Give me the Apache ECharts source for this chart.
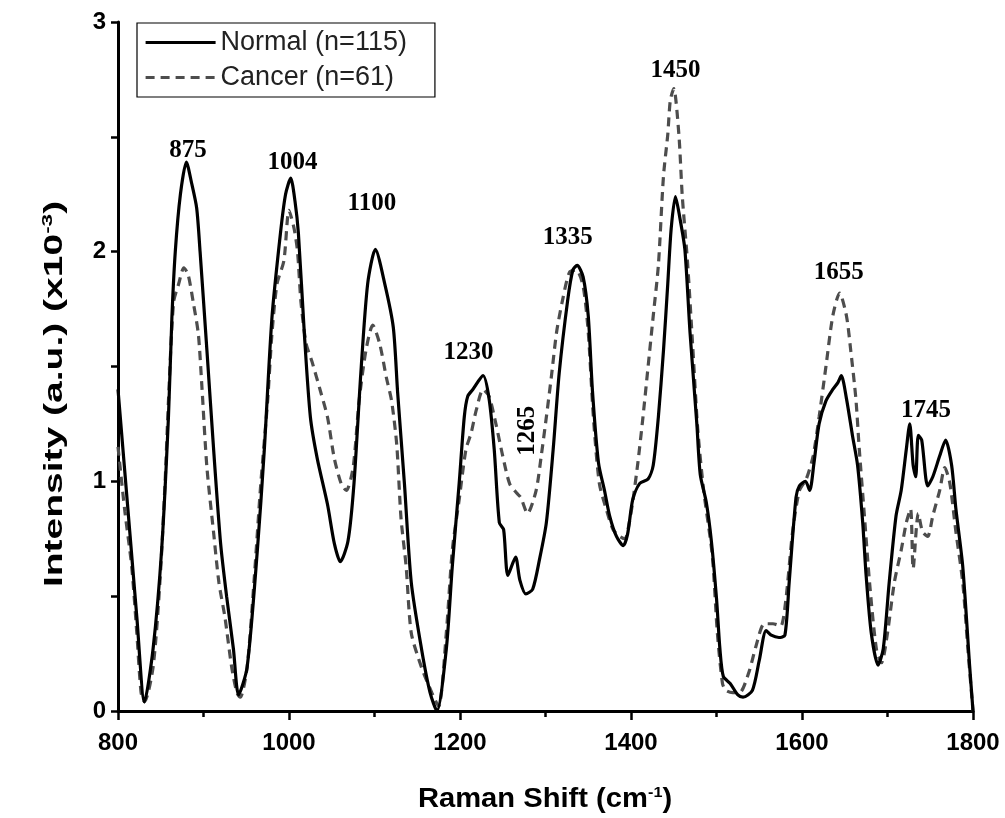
<!DOCTYPE html>
<html>
<head>
<meta charset="utf-8">
<script src="https://cdn.jsdelivr.net/npm/echarts@6/dist/echarts.min.js"></script>
<style>
  html, body { margin: 0; padding: 0; background: #fff; }
  #chart { width: 1005px; height: 818px; }
</style>
</head>
<body>
<div id="chart"></div>
<script>
// Mean Raman spectra, intensity in units of 1e-3
const normalShift = [800,814,822,831,841,851,859,863,867,873,880,886,892,896,904,912,920,927,935,941,951,963,971,980,990,996,1002,1007,1011,1018,1025,1033,1045,1053,1060,1069,1076,1084,1092,1101,1112,1122,1127,1135,1143,1155,1165,1173,1184,1191,1199,1205,1209,1215,1227,1234,1240,1246,1251,1256,1265,1270,1277,1285,1293,1301,1309,1316,1326,1332,1337,1344,1350,1355,1362,1369,1375,1383,1391,1396,1402,1410,1420,1426,1432,1438,1443,1447,1452,1457,1463,1469,1477,1481,1488,1494,1500,1504,1508,1516,1525,1531,1542,1550,1558,1564,1573,1580,1585,1593,1597,1604,1609,1614,1620,1628,1636,1642,1646,1652,1659,1665,1671,1675,1681,1689,1695,1702,1710,1716,1722,1726,1730,1733,1736,1740,1747,1753,1761,1768,1775,1780,1788,1796,1800];
const normalIntensity = [1.40,0.77,0.41,0.04,0.27,0.70,1.28,1.71,2.00,2.25,2.39,2.30,2.19,2.00,1.57,1.13,0.73,0.50,0.27,0.07,0.19,0.70,1.13,1.71,2.08,2.25,2.32,2.22,2.08,1.64,1.28,1.10,0.90,0.73,0.65,0.74,0.99,1.47,1.86,2.01,1.86,1.67,1.39,0.99,0.56,0.27,0.08,0.00,0.27,0.63,0.99,1.28,1.37,1.40,1.46,1.36,1.14,0.82,0.79,0.59,0.67,0.57,0.51,0.53,0.66,0.82,1.14,1.47,1.79,1.92,1.94,1.89,1.72,1.39,1.08,0.96,0.85,0.76,0.72,0.77,0.92,0.99,1.01,1.07,1.28,1.57,1.86,2.10,2.24,2.15,2.01,1.65,1.25,1.03,0.91,0.74,0.49,0.27,0.15,0.12,0.07,0.06,0.09,0.22,0.35,0.33,0.32,0.33,0.56,0.93,0.98,1.00,0.96,1.08,1.25,1.35,1.40,1.43,1.46,1.36,1.20,1.07,0.82,0.59,0.34,0.20,0.27,0.56,0.85,0.96,1.14,1.25,1.07,1.02,1.20,1.18,0.98,1.02,1.11,1.18,1.07,0.88,0.63,0.20,0.00];

const cancerShift = [800,808,816,822,827,831,841,849,855,859,865,871,877,882,888,894,898,904,912,918,925,933,939,943,951,959,967,975,980,986,994,1000,1006,1010,1014,1020,1027,1037,1045,1053,1061,1067,1075,1082,1090,1098,1106,1114,1120,1126,1131,1137,1143,1155,1167,1175,1184,1191,1199,1207,1213,1219,1227,1234,1242,1250,1258,1266,1271,1279,1289,1295,1301,1307,1313,1320,1328,1336,1344,1350,1356,1363,1371,1379,1387,1393,1398,1402,1408,1414,1420,1426,1432,1438,1443,1446,1450,1456,1460,1466,1472,1478,1485,1495,1501,1507,1511,1519,1527,1538,1546,1556,1566,1575,1581,1589,1597,1605,1613,1620,1628,1636,1644,1652,1657,1663,1667,1673,1679,1687,1693,1700,1708,1716,1722,1727,1730,1736,1741,1747,1753,1761,1767,1773,1780,1788,1794,1800];
const cancerIntensity = [1.15,0.87,0.63,0.34,0.08,0.04,0.19,0.56,0.99,1.35,1.78,1.86,1.93,1.90,1.78,1.64,1.42,1.06,0.77,0.56,0.41,0.19,0.08,0.06,0.19,0.56,0.99,1.35,1.64,1.86,1.96,2.18,2.10,2.00,1.78,1.60,1.52,1.39,1.28,1.10,0.99,0.96,1.06,1.35,1.57,1.68,1.60,1.45,1.35,1.16,0.84,0.63,0.34,0.19,0.08,0.02,0.34,0.70,0.92,1.14,1.21,1.31,1.40,1.37,1.25,1.11,0.99,0.95,0.93,0.86,0.96,1.11,1.28,1.46,1.65,1.79,1.91,1.92,1.85,1.65,1.28,0.99,0.88,0.79,0.76,0.75,0.82,0.91,1.08,1.28,1.50,1.72,1.94,2.33,2.51,2.66,2.71,2.51,2.24,1.96,1.60,1.23,0.96,0.68,0.34,0.12,0.09,0.08,0.08,0.17,0.28,0.38,0.38,0.37,0.48,0.78,0.96,1.01,1.11,1.28,1.50,1.72,1.82,1.72,1.57,1.36,1.14,0.85,0.56,0.27,0.21,0.34,0.56,0.70,0.82,0.88,0.62,0.86,0.78,0.76,0.85,0.96,1.06,0.99,0.78,0.56,0.27,0.00];

// Band assignments written above the peaks (text, shift, intensity)
const peakLabels = ['875','1004','1100','1230','1265','1335','1450','1655','1745'];
const peakLabelShift = [882,1004,1097,1210,1279,1326,1452,1643,1745];
const peakLabelIntensity = [2.44,2.39,2.21,1.56,1.22,2.06,2.79,1.91,1.31];
const peakLabelRotate = [0,0,0,0,90,0,0,0,0];

const xTicks = [800,1000,1200,1400,1600,1800];
const yTicks = [0,1,2,3];

const zip = (xs, ys) => xs.map((x, i) => [x, ys[i]]);

const chart = echarts.init(document.getElementById('chart'), null, { renderer: 'canvas' });

const sansBold = { fontFamily: 'Liberation Sans, Arial, sans-serif', fontWeight: 'bold', color: '#000' };

chart.setOption({
  animation: false,
  backgroundColor: '#fff',
  grid: { left: 118, right: 32, top: 22, bottom: 107, containLabel: false },
  legend: {
    left: 137, top: 23,
    orient: 'vertical',
    backgroundColor: '#fff',
    borderColor: '#000', borderWidth: 1.2, borderRadius: 0,
    padding: [6, 28, 6, 7],
    itemGap: 8,
    itemWidth: 70, itemHeight: 28,
    itemStyle: { opacity: 0 },
    lineStyle: { width: 3.2 },
    textStyle: { fontFamily: 'Liberation Sans, Arial, sans-serif', fontSize: 27, color: '#222' },
    data: ['Normal (n=115)', 'Cancer (n=61)']
  },
  graphic: [
    {
      // y-axis title, drawn stretched along its length
      type: 'text', x: 55, y: 394, rotation: Math.PI / 2, scaleX: 1.5, scaleY: 1,
      style: Object.assign({
        text: 'Intensity (a.u.) (x10{sup|-3})',
        fontSize: 26, align: 'center', verticalAlign: 'middle', fill: '#000',
        rich: { sup: Object.assign({ fontSize: 15, verticalAlign: 'top', padding: [0, 0, 14, 0] }, sansBold) }
      }, sansBold)
    },
    {
      type: 'text', x: 545, y: 800, scaleX: 1.08, scaleY: 1,
      style: Object.assign({
        text: 'Raman Shift (cm{sup|-1})',
        fontSize: 27, align: 'center', verticalAlign: 'middle', fill: '#000',
        rich: { sup: Object.assign({ fontSize: 15, verticalAlign: 'top', padding: [0, 0, 14, 0] }, sansBold) }
      }, sansBold)
    }
  ],
  xAxis: {
    type: 'value', min: 800, max: 1800, interval: 200,
    axisLine: { show: true, onZero: false, lineStyle: { color: '#000', width: 3 } },
    axisTick: { show: true, inside: false, length: 9, lineStyle: { color: '#000', width: 2.5 } },
    minorTick: { show: true, splitNumber: 2, length: 6, lineStyle: { color: '#000', width: 2.5 } },
    axisLabel: Object.assign({ fontSize: 24, margin: 20, formatter: v => xTicks.includes(v) ? String(v) : '' }, sansBold),
    splitLine: { show: false }
  },
  yAxis: {
    type: 'value', min: 0, max: 3, interval: 1,
    axisLine: { show: true, lineStyle: { color: '#000', width: 3 } },
    axisTick: { show: true, inside: false, length: 7, lineStyle: { color: '#000', width: 2.5 } },
    minorTick: { show: true, splitNumber: 2, length: 7, lineStyle: { color: '#000', width: 2.5 } },
    axisLabel: Object.assign({ fontSize: 24, margin: 12, formatter: v => yTicks.includes(v) ? String(v) : '' }, sansBold),
    splitLine: { show: false }
  },
  series: [
    {
      name: 'Normal (n=115)', type: 'line', data: zip(normalShift, normalIntensity),
      symbol: 'none', smooth: 0.25, z: 3,
      lineStyle: { color: '#000', width: 3.2, type: 'solid' },
      itemStyle: { color: '#000' }
    },
    {
      name: 'Cancer (n=61)', type: 'line', data: zip(cancerShift, cancerIntensity),
      symbol: 'none', smooth: 0.25, z: 2,
      lineStyle: { color: '#4d4d4d', width: 3.2, type: [9, 6] },
      itemStyle: { color: '#4d4d4d' }
    },
    {
      name: 'peaks', type: 'scatter', symbolSize: 0, silent: true, z: 5,
      itemStyle: { color: '#000', opacity: 1 },
      data: peakLabels.map((t, i) => ({
        name: t, value: [peakLabelShift[i], peakLabelIntensity[i]],
        label: { rotate: peakLabelRotate[i] }
      })),
      label: {
        show: true, position: 'inside', formatter: p => p.name,
        fontFamily: 'Liberation Serif, Times New Roman, serif', fontSize: 25, fontWeight: 'bold',
        color: '#000', opacity: 1, textBorderWidth: 0
      }
    }
  ]
});
</script>
</body>
</html>
